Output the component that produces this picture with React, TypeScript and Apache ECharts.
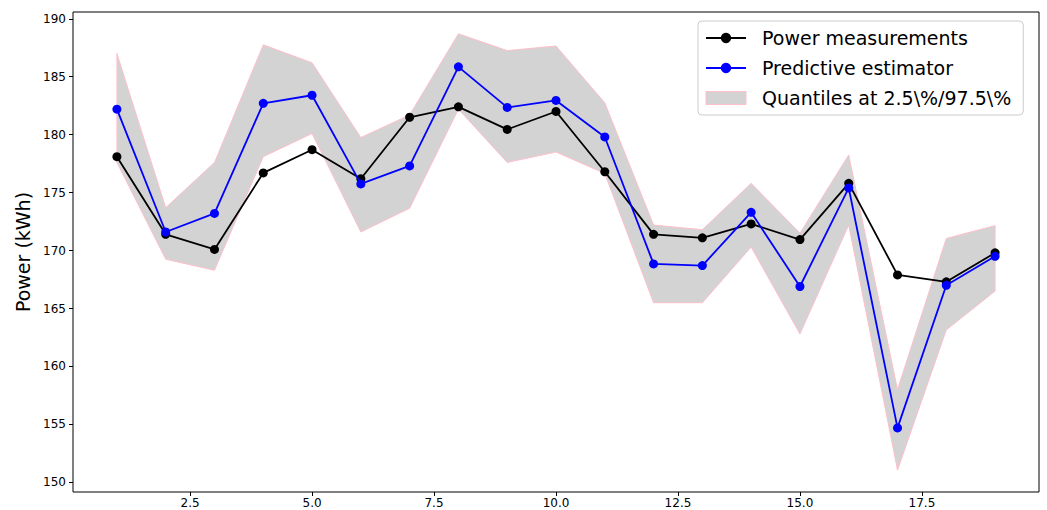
import React, { useEffect, useRef } from "react";
import * as echarts from "echarts";

const xs = [1, 2, 3, 4, 5, 6, 7, 8, 9, 10, 11, 12, 13, 14, 15, 16, 17, 18, 19];
const measured = [178.1, 171.4, 170.1, 176.7, 178.7, 176.2, 181.5, 182.4, 180.45, 182.0, 176.8, 171.4, 171.1, 172.3, 170.95, 175.8, 167.9, 167.3, 169.8];
const predicted = [182.2, 171.6, 173.2, 182.7, 183.4, 175.75, 177.3, 185.85, 182.35, 182.95, 179.8, 168.85, 168.7, 173.3, 166.9, 175.4, 154.7, 167.0, 169.5];
const upperQ = [187.0, 173.7, 177.6, 187.75, 186.2, 179.75, 181.7, 188.7, 187.25, 187.65, 182.75, 172.2, 171.8, 175.8, 171.5, 178.25, 158.0, 171.05, 172.15];
const lowerQ = [177.6, 169.25, 168.3, 178.1, 180.1, 171.6, 173.65, 182.2, 177.6, 178.5, 176.65, 165.5, 165.5, 170.3, 162.8, 172.2, 151.05, 163.15, 166.5];
const yTicks = [150, 155, 160, 165, 170, 175, 180, 185, 190];
const xTicks = [2.5, 5.0, 7.5, 10.0, 12.5, 15.0, 17.5];

const NAME_MEAS = "Power measurements";
const NAME_PRED = "Predictive estimator";
const NAME_Q = "Quantiles at 2.5\\%/97.5\\%";
const FONT = "DejaVu Sans";

export default function App() {
  const ref = useRef<HTMLDivElement>(null);
  useEffect(() => {
    document.body.style.margin = "0";
    const chart = echarts.init(ref.current!, null, { renderer: "svg" });
    const lo = Math.min(...lowerQ);
    const hi = Math.max(...upperQ);
    const pad = (hi - lo) * 0.05;
    const xPad = (xs[xs.length - 1] - xs[0]) * 0.05;
    const pairs = (ys: number[]) => xs.map((x, i) => [x, ys[i]]);
    chart.setOption({
      animation: false,
      textStyle: { fontFamily: FONT },
      grid: {
        left: 73,
        right: 8,
        top: 12,
        bottom: 18,
        show: true,
        borderColor: "#000",
        borderWidth: 1,
        backgroundColor: "transparent",
      },
      legend: {
        orient: "vertical",
        left: 698,
        top: 21,
        itemWidth: 40,
        itemHeight: 13,
        itemGap: 8,
        padding: [6, 12, 6, 7],
        backgroundColor: "rgba(255,255,255,0.8)",
        borderColor: "#cccccc",
        borderWidth: 1,
        borderRadius: 4,
        selectedMode: false,
        textStyle: { fontFamily: FONT, fontSize: 19, color: "#000", lineHeight: 22, padding: [0, 0, 0, 11] },
        data: [
          { name: NAME_MEAS },
          { name: NAME_PRED },
          { name: NAME_Q, icon: "rect", itemStyle: { color: "#d3d3d3", borderColor: "#ffc0cb", borderWidth: 1 } },
        ],
      },
      xAxis: {
        type: "value",
        min: xs[0] - xPad,
        max: xs[xs.length - 1] + xPad,
        splitLine: { show: false },
        axisLine: { show: false },
        axisTick: { show: true, length: 4, customValues: xTicks, lineStyle: { color: "#000" } },
        axisLabel: {
          customValues: xTicks,
          formatter: (v: number) => v.toFixed(1),
          fontFamily: FONT,
          fontSize: 12,
          color: "#000",
          margin: 5,
        },
      },
      yAxis: {
        type: "value",
        min: lo - pad,
        max: hi + pad,
        name: "Power (kWh)",
        nameLocation: "middle",
        nameGap: 40,
        nameTextStyle: { fontFamily: FONT, fontSize: 19, color: "#000" },
        splitLine: { show: false },
        axisLine: { show: false },
        axisTick: { show: true, length: 4, customValues: yTicks, lineStyle: { color: "#000" } },
        axisLabel: {
          customValues: yTicks,
          fontFamily: FONT,
          fontSize: 12,
          color: "#000",
          margin: 7,
        },
      },
      series: [
        {
          name: NAME_Q,
          type: "custom",
          data: xs.map((x, i) => [x, lowerQ[i], upperQ[i]]),
          encode: { x: 0, y: [1, 2] },
          itemStyle: { color: "#d3d3d3", borderColor: "#ffc0cb" },
          silent: true,
          z: 1,
          renderItem: (params: any, api: any) => {
            if (params.dataIndex !== 0) return null;
            const top = xs.map((x, i) => api.coord([x, upperQ[i]]));
            const bottom = xs.map((x, i) => api.coord([x, lowerQ[i]])).reverse();
            return {
              type: "polygon",
              shape: { points: top.concat(bottom) },
              style: { fill: "#d3d3d3", stroke: "#ffc0cb", lineWidth: 1 },
            };
          },
        },
        {
          name: NAME_MEAS,
          type: "line",
          data: pairs(measured),
          symbol: "circle",
          symbolSize: 9,
          lineStyle: { color: "#000", width: 1.8 },
          itemStyle: { color: "#000" },
          z: 2,
        },
        {
          name: NAME_PRED,
          type: "line",
          data: pairs(predicted),
          symbol: "circle",
          symbolSize: 9,
          lineStyle: { color: "#0000ff", width: 1.8 },
          itemStyle: { color: "#0000ff" },
          z: 3,
        },
      ],
    });
    return () => chart.dispose();
  }, []);
  return <div ref={ref} style={{ width: 1047, height: 510 }} />;
}
